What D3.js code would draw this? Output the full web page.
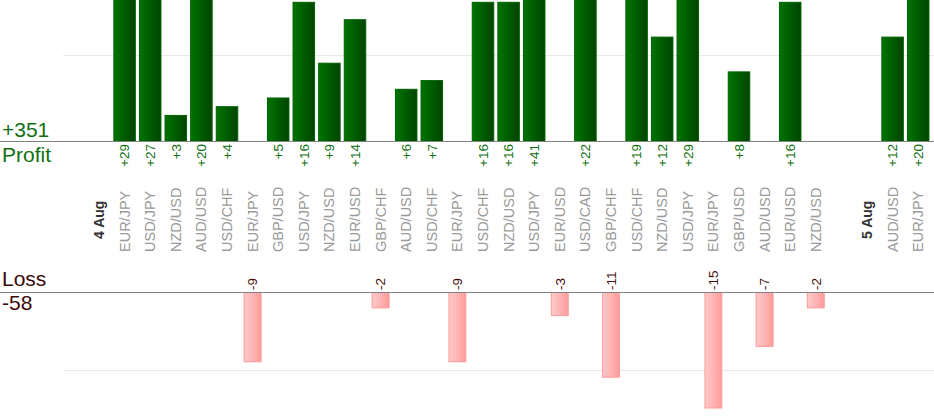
<!DOCTYPE html>
<html>
<head>
<meta charset="utf-8">
<script src="https://cdn.jsdelivr.net/npm/d3@7"></script>
<style>
  body { margin: 0; background: #fff; }
  svg { display: block; font-family: "Liberation Sans", Arial, sans-serif; }
</style>
</head>
<body>
<script>
// one slot per trade, date markers take a slot of their own
var slots = ["4 Aug","EUR/JPY","USD/JPY","NZD/USD","AUD/USD","USD/CHF","EUR/JPY","GBP/USD",
  "USD/JPY","NZD/USD","EUR/USD","GBP/CHF","AUD/USD","USD/CHF","EUR/JPY","USD/CHF","NZD/USD",
  "USD/JPY","EUR/USD","USD/CAD","GBP/CHF","USD/CHF","NZD/USD","USD/JPY","EUR/JPY","GBP/USD",
  "AUD/USD","EUR/USD","NZD/USD","","5 Aug","AUD/USD","EUR/JPY"];
var dates = ["4 Aug","5 Aug"];
var results = [null,29,27,3,20,4,-9,5,16,9,14,-2,6,7,-9,16,16,41,-3,22,-11,19,12,29,-15,8,-7,16,-2,null,null,12,20];
var gridTicks = [10];

var w = 934, h = 420;
var profitBase = 141.5, lossBase = 292.5;

var x = d3.scaleBand()
  .domain(d3.range(slots.length))
  .range([86.2, 931]);

var yProfit = d3.scaleLinear().domain([0, 10]).range([profitBase, profitBase - 87]);
var yLoss = d3.scaleLinear().domain([0, 10]).range([lossBase, lossBase + 77]);

var data = slots.map(function(s, i){
  return {i: i, key: s, value: results[i]};
});
var wins = data.filter(function(d){ return d.value > 0; });
var losses = data.filter(function(d){ return d.value < 0; });

var svg = d3.select('body').append('svg')
  .attr('width', w)
  .attr('height', h);

var defs = svg.append('defs');
var g1 = defs.append('linearGradient').attr('id', 'gWin');
g1.append('stop').attr('offset', '0%').attr('stop-color', '#007400');
g1.append('stop').attr('offset', '100%').attr('stop-color', '#004400');
var g2 = defs.append('linearGradient').attr('id', 'gLoss');
g2.append('stop').attr('offset', '0%').attr('stop-color', '#ffcaca');
g2.append('stop').attr('offset', '100%').attr('stop-color', '#ff9c9c');

// light grid lines
svg.selectAll('.grid-p').data(gridTicks).enter().append('line')
  .attr('x1', 63).attr('x2', w)
  .attr('y1', function(d){ return Math.round(yProfit(d)) + 0.5; })
  .attr('y2', function(d){ return Math.round(yProfit(d)) + 0.5; })
  .attr('stroke', '#e8e8e8');
svg.selectAll('.grid-l').data(gridTicks).enter().append('line')
  .attr('x1', 63).attr('x2', w)
  .attr('y1', function(d){ return Math.round(yLoss(d)) + 0.5; })
  .attr('y2', function(d){ return Math.round(yLoss(d)) + 0.5; })
  .attr('stroke', '#e8e8e8');

var step = x.step();

// profit bars
svg.selectAll('.win').data(wins).enter().append('rect')
  .attr('x', function(d){ return x(d.i) + step / 2 - step * 0.42; })
  .attr('width', step * 0.84)
  .attr('y', function(d){ return yProfit(d.value); })
  .attr('height', function(d){ return profitBase - yProfit(d.value); })
  .attr('fill', 'url(#gWin)')
  .attr('stroke', '#006200');

// loss bars
svg.selectAll('.loss').data(losses).enter().append('rect')
  .attr('x', function(d){ return x(d.i) + step / 2 - step * 0.33; })
  .attr('width', step * 0.66)
  .attr('y', lossBase)
  .attr('height', function(d){ return yLoss(-d.value) - lossBase; })
  .attr('fill', 'url(#gLoss)')
  .attr('stroke', '#ff9a9a');

// base lines
[profitBase, lossBase].forEach(function(b){
  svg.append('line')
    .attr('x1', 0).attr('x2', w)
    .attr('y1', b).attr('y2', b)
    .attr('stroke', '#808080');
});

function cx(d){ return x(d.i) + step / 2; }

// value labels
svg.selectAll('.win-label').data(wins).enter().append('text')
  .attr('transform', function(d){ return 'translate(' + cx(d) + ',144) rotate(-90)'; })
  .attr('dy', '0.35em')
  .attr('text-anchor', 'end')
  .attr('font-size', 13.5)
  .attr('fill', '#107010')
  .text(function(d){ return '+' + d.value; });

svg.selectAll('.loss-label').data(losses).enter().append('text')
  .attr('transform', function(d){ return 'translate(' + cx(d) + ',290) rotate(-90)'; })
  .attr('dy', '0.35em')
  .attr('text-anchor', 'start')
  .attr('font-size', 13.5)
  .attr('fill', '#4a0c0c')
  .text(function(d){ return d.value; });

// pair names and dates
svg.selectAll('.cat').data(data.filter(function(d){ return d.key && dates.indexOf(d.key) < 0; }))
  .enter().append('text')
  .attr('transform', function(d){ return 'translate(' + cx(d) + ',252) rotate(-90)'; })
  .attr('dy', '0.35em')
  .attr('font-size', 14.5)
  .attr('fill', '#9a9a9a')
  .text(function(d){ return d.key; });

svg.selectAll('.date').data(data.filter(function(d){ return dates.indexOf(d.key) >= 0; }))
  .enter().append('text')
  .attr('transform', function(d){ return 'translate(' + cx(d) + ',239) rotate(-90)'; })
  .attr('dy', '0.35em')
  .attr('font-size', 14)
  .attr('font-weight', 'bold')
  .attr('fill', '#333')
  .text(function(d){ return d.key; });

// totals
var totalWin = d3.sum(wins, function(d){ return d.value; });
var totalLoss = d3.sum(losses, function(d){ return d.value; });

svg.append('text').attr('x', 2).attr('y', 137).attr('font-size', 21).attr('fill', '#107010').text('+' + totalWin);
svg.append('text').attr('x', 2).attr('y', 162).attr('font-size', 21).attr('fill', '#107010').text('Profit');
svg.append('text').attr('x', 2).attr('y', 286).attr('font-size', 21).attr('fill', '#3c0808').text('Loss');
svg.append('text').attr('x', 2).attr('y', 310).attr('font-size', 21).attr('fill', '#3c0808').text(totalLoss);
</script>
</body>
</html>
